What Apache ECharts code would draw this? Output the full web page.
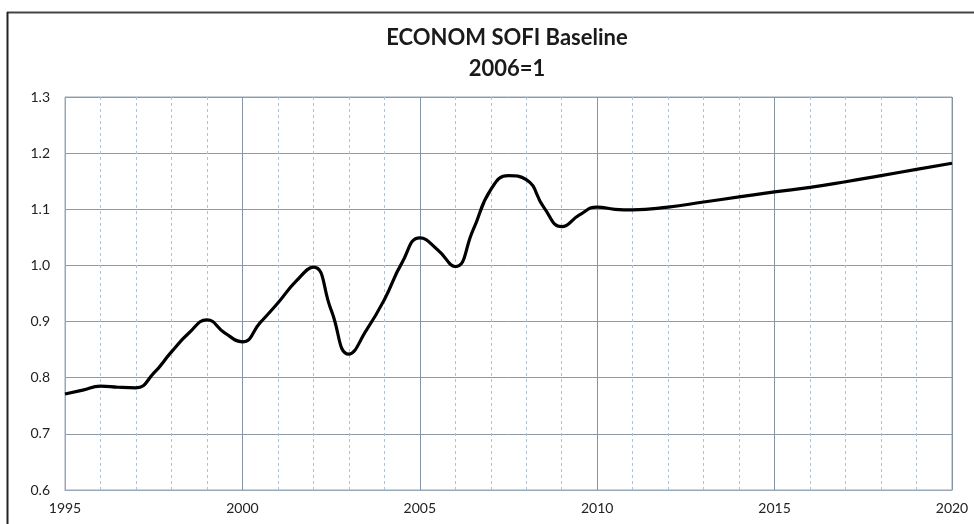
<!DOCTYPE html>
<html>
<head>
<meta charset="utf-8">
<script src="https://cdn.jsdelivr.net/npm/echarts@6/dist/echarts.min.js"></script>
<style>
html,body{margin:0;padding:0;background:#fff;}
#chart{width:974px;height:524px;}
</style>
</head>
<body>
<div id="chart"></div>
<script>
// values (yearly, plus mid-year readings where the curve bends)
const years = [1995,1995.5,1996,1996.5,1997,1997.5,1998,1998.5,1999,1999.5,2000,2000.5,2001,2001.5,2002,2002.5,2003,2003.5,2004,2004.5,2005,2005.5,2006,2006.5,2007,2007.5,2008,2008.5,2009,2009.5,2010,2010.5,2011,2012,2013,2014,2015,2016,2017,2018,2019,2020];
const sofi = [0.771,0.778,0.785,0.783,0.782,0.808,0.846,0.880,0.903,0.880,0.864,0.898,0.933,0.971,0.997,0.921,0.842,0.885,0.939,1.005,1.049,1.028,0.998,1.063,1.135,1.160,1.153,1.103,1.069,1.090,1.104,1.100,1.099,1.104,1.113,1.122,1.131,1.139,1.149,1.160,1.171,1.182];
const titleText = 'ECONOM SOFI Baseline';
const subtitleText = '2006=1';

const chart = echarts.init(document.getElementById('chart'), null, {renderer:'canvas'});
const labelFont = {fontFamily:'Lato', fontSize:14, color:'#222'};
chart.setOption({
  animation:false,
  backgroundColor:'#fff',
  title:{
    text:titleText + '\n' + subtitleText,
    left:502, top:17, textAlign:'center',
    textStyle:{fontFamily:'Lato', fontWeight:'bold', fontSize:22, color:'#1a1a1a', lineHeight:31}
  },
  graphic:[
    {type:'line', shape:{x1:7,y1:12.5,x2:974,y2:12.5}, style:{stroke:'#444', lineWidth:2}},
    {type:'line', shape:{x1:7.5,y1:12,x2:7.5,y2:524}, style:{stroke:'#222', lineWidth:2}}
  ],
  grid:{left:65, right:22, top:97, bottom:34, show:true, borderColor:'#9aa7b4', borderWidth:1},
  xAxis:{
    type:'value', min:1995, max:2020, interval:5,
    axisLine:{show:true, lineStyle:{color:'#9aa7b4'}},
    axisTick:{show:false},
    axisLabel:Object.assign({margin:11, formatter:v=>String(v)}, labelFont),
    splitLine:{show:true, lineStyle:{color:'#8494a4', width:1}},
    minorTick:{show:false, splitNumber:5},
    minorSplitLine:{show:true, lineStyle:{color:'#a9c3da', width:1, type:[3,3]}}
  },
  yAxis:{
    type:'value', min:0.6, max:1.3, interval:0.1,
    axisLine:{show:true, lineStyle:{color:'#9aa7b4'}},
    axisTick:{show:false},
    axisLabel:Object.assign({margin:15, formatter:v=>v.toFixed(1)}, labelFont),
    splitLine:{show:true, lineStyle:{color:'#8f9aa8', width:1}}
  },
  series:[{
    type:'line',
    data:years.map((y,i)=>[y, sofi[i]]),
    smooth:0.5,
    showSymbol:false,
    lineStyle:{color:'#000', width:3.2}
  }]
});
</script>
</body>
</html>
